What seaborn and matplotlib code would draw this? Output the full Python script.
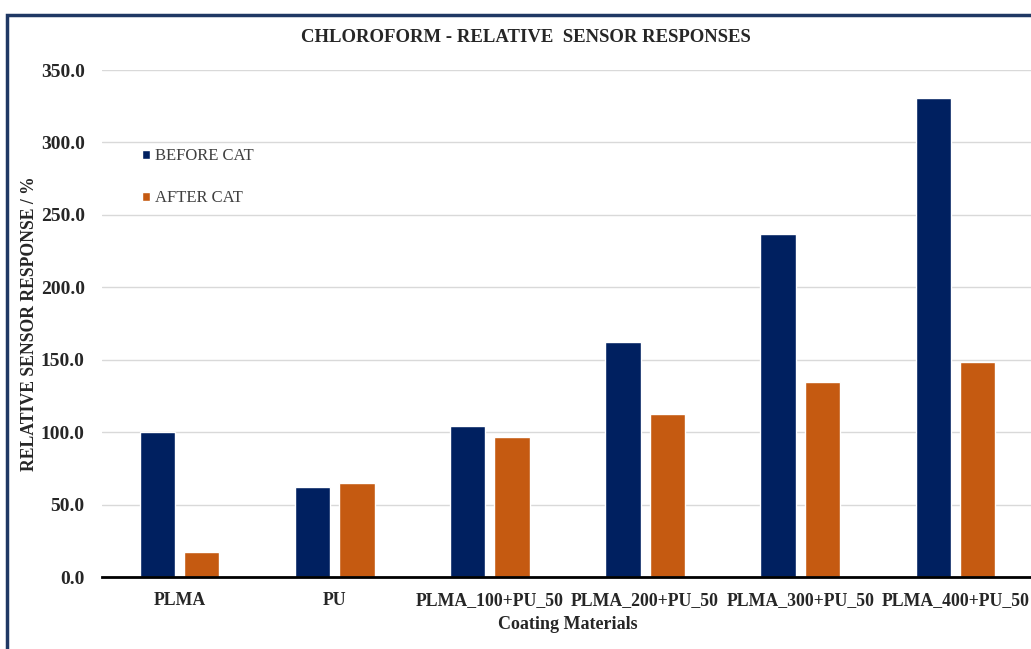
import matplotlib
matplotlib.use("Agg")
import matplotlib.pyplot as plt
import matplotlib.patches as mpatches
import seaborn as sns
import pandas as pd

categories = ["PLMA", "PU", "PLMA_100+PU_50", "PLMA_200+PU_50", "PLMA_300+PU_50", "PLMA_400+PU_50"]
before_cat = [100.1, 62.1, 104.2, 162.2, 236.8, 330.7]
after_cat = [17.3, 64.9, 96.6, 112.5, 134.6, 148.4]
series_names = ["BEFORE CAT", "AFTER CAT"]
yticks = [0, 50, 100, 150, 200, 250, 300, 350]

df = pd.DataFrame({
    "cat": categories * 2,
    "val": before_cat + after_cat,
    "series": [series_names[0]] * len(categories) + [series_names[1]] * len(categories),
})

sns.set_theme(style="white")
plt.rcParams['font.family'] = ['Liberation Serif', 'DejaVu Serif']

fig = plt.figure(figsize=(10.31, 6.49), dpi=100)
ax = fig.add_axes([102/1031, 1 - 577/649, (1033-102)/1031, (577-70)/649])

palette = {"BEFORE CAT": "#002060", "AFTER CAT": "#C55A11"}
sns.barplot(data=df, x="cat", y="val", hue="series", order=categories,
            hue_order=series_names, palette=palette, width=0.57, gap=0.2,
            ax=ax, saturation=1, legend=True)

ax.set_ylim(0, 350)
ax.set_yticks(yticks)
ax.set_yticklabels([f"{v:.1f}" for v in yticks], fontsize=14, fontweight="bold")
ax.set_xticks(range(len(categories)))
ax.set_xticklabels(categories, fontsize=12.8, fontweight="bold")
ax.tick_params(axis="x", length=0, pad=11)
ax.tick_params(axis="y", length=0, pad=12.5)
ax.set_xlim(-0.5, len(categories) - 0.5)
ax.yaxis.grid(True, color="#d9d9d9", linewidth=1)
ax.set_axisbelow(True)
for s in ["top", "right", "left"]:
    ax.spines[s].set_visible(False)
ax.spines["bottom"].set_color("black")
ax.spines["bottom"].set_linewidth(2)
ax.spines["bottom"].set_zorder(5)

ax.set_xlabel("Coating Materials", fontsize=13, fontweight="bold", labelpad=5)
ax.set_ylabel("RELATIVE SENSOR RESPONSE / %", fontsize=12.7, fontweight="bold", labelpad=2)

fig.text(526/1031, 1 - 37/649, "CHLOROFORM - RELATIVE  SENSOR RESPONSES",
         ha="center", va="center", fontsize=13.5, fontweight="bold")

handles, labels = ax.get_legend_handles_labels()
leg = ax.legend(handles, labels, loc="upper left", bbox_to_anchor=(0.027, 0.875),
                frameon=False, fontsize=12, handlelength=0.5, handleheight=0.5,
                handletextpad=0.3, labelspacing=1.55, labelcolor="#404040")

border = mpatches.Rectangle((7/1031, -0.1), 1.2, 1 - 15/649 + 0.1,
                            transform=fig.transFigure, fill=False,
                            edgecolor="#1f3864", linewidth=2.5, zorder=10)
fig.patches.append(border)

fig.savefig("out.png", dpi=100)
